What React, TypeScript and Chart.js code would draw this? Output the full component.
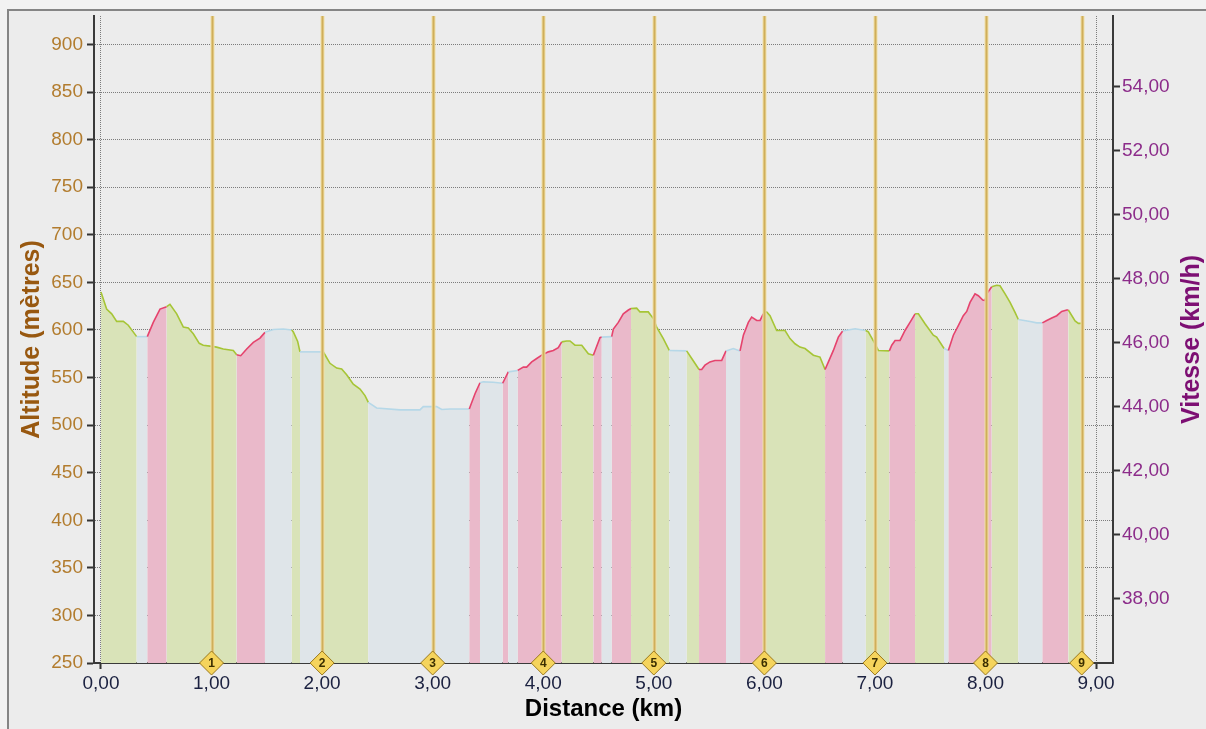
import React, { useEffect, useRef } from 'react';
import { Chart, registerables } from 'chart.js';

Chart.register(...registerables);

// ---- Data ----
const distanceKm = [
  0.0, 0.051, 0.097, 0.142, 0.202, 0.247, 0.323, 0.419, 0.473, 0.534,
  0.594, 0.624, 0.685, 0.745, 0.79, 0.835, 0.889, 0.925, 0.986, 1.046,
  1.106, 1.197, 1.227, 1.264, 1.318, 1.378, 1.438, 1.483, 1.559, 1.649,
  1.725, 1.74, 1.779, 1.8, 2.011, 2.026, 2.071, 2.132, 2.177, 2.222,
  2.282, 2.343, 2.388, 2.418, 2.493, 2.704, 2.885, 2.915, 3.036, 3.082,
  3.157, 3.331, 3.383, 3.428, 3.458, 3.548, 3.633, 3.684, 3.769, 3.82,
  3.85, 3.896, 3.941, 3.986, 4.046, 4.091, 4.136, 4.167, 4.212, 4.242,
  4.287, 4.348, 4.408, 4.453, 4.513, 4.529, 4.619, 4.634, 4.679, 4.724,
  4.77, 4.794, 4.845, 4.875, 4.95, 4.996, 5.026, 5.086, 5.14, 5.297,
  5.343, 5.409, 5.433, 5.463, 5.508, 5.553, 5.614, 5.653, 5.719, 5.78,
  5.81, 5.855, 5.885, 5.931, 5.961, 5.99, 6.021, 6.051, 6.111, 6.187,
  6.232, 6.277, 6.322, 6.368, 6.443, 6.503, 6.549, 6.579, 6.624, 6.669,
  6.708, 6.82, 6.916, 6.94, 6.991, 7.031, 7.13, 7.152, 7.182, 7.227,
  7.272, 7.317, 7.363, 7.393, 7.453, 7.528, 7.558, 7.625, 7.664, 7.709,
  7.754, 7.799, 7.83, 7.86, 7.905, 7.935, 7.975, 7.996, 8.011, 8.056,
  8.101, 8.131, 8.177, 8.222, 8.267, 8.297, 8.403, 8.463, 8.514, 8.554,
  8.599, 8.644, 8.689, 8.735, 8.749, 8.81, 8.84, 8.876,
];

const altitudeM = [
  640, 622, 617, 609, 609, 605, 593, 593, 608, 622,
  624.5, 627, 617, 603, 602, 596, 586, 584, 583, 582,
  580, 578.5, 574, 573, 580, 587, 591.5, 597.5, 600.5, 601,
  600, 598, 588, 577, 577, 574, 565, 560, 559, 553,
  543, 538, 531, 524, 518, 516, 516, 519.5, 519.5, 516.5,
  517, 517, 533, 544.5, 545.5, 545, 544, 556, 557.5, 561,
  561, 566.5, 570, 573.5, 577, 578.5, 581.5, 587.5, 588.5, 588.5,
  584, 584, 575, 573.5, 592, 592.5, 593, 601, 608, 617,
  621, 622.5, 623, 619, 619, 612, 603, 591, 578.5, 578,
  570, 558.5, 558.5, 563, 566.5, 568, 568, 578, 580.5, 578,
  594.5, 608, 613.5, 610, 610, 617, 619, 615, 599.5, 599.5,
  591, 585.5, 582, 580.5, 573.5, 571.5, 558.5, 566.5, 578.5, 592.5,
  599, 601.3, 599.5, 598, 587.5, 578.5, 578, 584, 589, 589,
  599.5, 608, 617, 617, 606.5, 594.5, 592.5, 580.5, 578.5, 594.5,
  604.5, 615, 619.5, 629, 638, 636, 631.5, 631, 638, 645.5,
  647, 646.5, 638, 629, 618.5, 611, 609, 607.5, 607.5, 610,
  612.5, 615, 619.5, 621, 621, 609.5, 607, 607,
];

// slope zones: d = descent (green), u = ascent (pink), f = flat (blue)
const zoneStartKm = [
  0, 0.323, 0.419, 0.594, 1.227, 1.483, 1.725, 1.8, 2.011, 2.418,
  3.331, 3.428, 3.633, 3.684, 3.769, 4.167, 4.453, 4.529, 4.619, 4.794,
  5.14, 5.297, 5.409, 5.653, 5.78, 5.99, 6.549, 6.708, 6.916, 7.13,
  7.363, 7.625, 7.664, 8.056, 8.297, 8.514, 8.749,
];
const zoneKind = [
  'd', 'f', 'u', 'd', 'u', 'f', 'd', 'f', 'd', 'f',
  'u', 'f', 'u', 'f', 'u', 'd', 'u', 'f', 'u', 'd',
  'f', 'd', 'u', 'f', 'u', 'd', 'u', 'f', 'd', 'u',
  'd', 'f', 'u', 'd', 'f', 'u', 'd',
];

const kmMarkerKm = [1, 2, 3, 4, 5, 6, 7, 8, 8.87];
const kmMarkerLabels = ['1', '2', '3', '4', '5', '6', '7', '8', '9'];

const distanceTicks = [0, 1, 2, 3, 4, 5, 6, 7, 8, 9];
const altitudeTicks = [250, 300, 350, 400, 450, 500, 550, 600, 650, 700, 750, 800, 850, 900];
const speedTicks = [38, 40, 42, 44, 46, 48, 50, 52, 54];

// ---- Styles ----
const FONT = '"Liberation Sans", Arial, sans-serif';
const LINE_COLORS: Record<string, string> = { d: '#a6c536', u: '#e5436d', f: '#b6d8e8' };
const FILL_COLORS: Record<string, string> = { d: '#d9e3b8', u: '#eab9ca', f: '#dfe5e9' };

const kindAt = (x: number) => {
  let k = zoneKind[0];
  for (let i = 0; i < zoneStartKm.length; i++) {
    if (zoneStartKm[i] <= x + 1e-6) k = zoneKind[i];
  }
  return k;
};

const fmtComma = (v: number) => Number(v).toFixed(2).replace('.', ',');

const overlayPlugin = {
  id: 'overlay',
  beforeDatasetDraw(chart: any, args: any) {
    if (args.index === 1) return false;
    return true;
  },
  afterDatasetDraw(chart: any, args: any) {
    if (args.index !== 0) return;
    const { ctx, chartArea, scales } = chart;
    ctx.save();
    kmMarkerKm.forEach((km) => {
      const px = Math.round(scales.x.getPixelForValue(km)) + 0.5;
      ctx.beginPath();
      ctx.strokeStyle = '#f0e0a8';
      ctx.lineWidth = 4;
      ctx.moveTo(px, chartArea.top);
      ctx.lineTo(px, chartArea.bottom);
      ctx.stroke();
      ctx.beginPath();
      ctx.strokeStyle = '#cfae5a';
      ctx.lineWidth = 2;
      ctx.moveTo(px, chartArea.top);
      ctx.lineTo(px, chartArea.bottom);
      ctx.stroke();
    });
    ctx.restore();
  },
  afterDraw(chart: any) {
    const { ctx, chartArea } = chart;
    const meta = chart.getDatasetMeta(1);
    ctx.save();
    meta.data.forEach((pt: any) => pt.draw(ctx, chartArea));
    ctx.font = `bold 12px ${FONT}`;
    ctx.fillStyle = '#3b2f00';
    ctx.textAlign = 'center';
    ctx.textBaseline = 'middle';
    meta.data.forEach((pt: any, i: number) => {
      ctx.fillText(kmMarkerLabels[i], pt.x, pt.y + 0.5);
    });
    // right axis title, reading bottom-to-top
    const y2 = chart.scales.y2;
    ctx.translate(y2.right - 14, (chartArea.top + chartArea.bottom) / 2);
    ctx.rotate(-Math.PI / 2);
    ctx.font = `bold 25px ${FONT}`;
    ctx.fillStyle = '#7d0f73';
    ctx.fillText('Vitesse (km/h)', 0, 0);
    ctx.restore();
  },
};

export default function App() {
  const canvasRef = useRef<HTMLCanvasElement | null>(null);

  useEffect(() => {
    if (!canvasRef.current) return;
    const profile = distanceKm.map((x, i) => ({ x, y: altitudeM[i] }));
    const markers = kmMarkerKm.map((x) => ({ x, y: 250 }));

    const chart = new Chart(canvasRef.current, {
      type: 'line',
      data: {
        datasets: [
          {
            type: 'line',
            data: profile,
            xAxisID: 'x',
            yAxisID: 'y',
            borderWidth: 1.6,
            pointRadius: 0,
            tension: 0,
            fill: 'start',
            borderColor: LINE_COLORS.d,
            backgroundColor: FILL_COLORS.d,
            segment: {
              borderColor: (c: any) => LINE_COLORS[kindAt(c.p0.parsed.x)],
              backgroundColor: (c: any) => FILL_COLORS[kindAt(c.p0.parsed.x)],
            },
          } as any,
          {
            type: 'scatter',
            data: markers,
            xAxisID: 'x',
            yAxisID: 'y',
            pointStyle: 'rectRot',
            pointRadius: 12,
            backgroundColor: '#f5d45c',
            borderColor: '#9a781c',
            borderWidth: 1,
            clip: false,
          } as any,
        ],
      },
      options: {
        responsive: false,
        animation: false,
        events: [],
        layout: { padding: { top: 16, left: 0, right: 0, bottom: 0 } },
        plugins: {
          legend: { display: false },
          tooltip: { enabled: false },
        },
        scales: {
          x: {
            type: 'linear',
            position: 'bottom',
            min: -0.063,
            max: 9.153,
            z: 1,
            afterBuildTicks: (s: any) => {
              s.ticks = distanceTicks.map((v) => ({ value: v }));
            },
            afterFit: (s: any) => {
              s.height = 66;
            },
            grid: {
              color: '#7c7c7c',
              lineWidth: 1,
              drawTicks: true,
              tickLength: 6,
              tickColor: '#333333',
              tickWidth: 2,
              tickBorderDash: [],
            },
            border: { display: true, color: '#3a3a3a', width: 2, dash: [1, 1] },
            ticks: {
              color: '#1b2140',
              font: { family: FONT, size: 19 },
              padding: 3,
              maxRotation: 0,
              autoSkip: false,
              callback: (v: any) => fmtComma(v),
            },
            title: {
              display: true,
              text: 'Distance (km)',
              color: '#000000',
              font: { family: FONT, size: 24, weight: 'bold', lineHeight: 1.2 },
              padding: { top: 0, bottom: 5 },
            },
          },
          y: {
            type: 'linear',
            position: 'left',
            min: 250,
            max: 930,
            z: 1,
            afterBuildTicks: (s: any) => {
              s.ticks = altitudeTicks.map((v) => ({ value: v }));
            },
            afterFit: (s: any) => {
              s.width = 94;
            },
            grid: {
              color: '#7c7c7c',
              lineWidth: 1,
              drawTicks: true,
              tickLength: 7,
              tickColor: '#333333',
              tickWidth: 2,
              tickBorderDash: [],
            },
            border: { display: true, color: '#3a3a3a', width: 2, dash: [1, 1] },
            ticks: {
              color: '#b27c2e',
              font: { family: FONT, size: 19 },
              padding: 4,
              callback: (v: any) => String(v),
            },
            title: {
              display: true,
              text: 'Altitude (mètres)',
              color: '#985810',
              font: { family: FONT, size: 25, weight: 'bold', lineHeight: 1.2 },
              padding: { top: 17, bottom: 0 },
            },
          },
          y2: {
            type: 'linear',
            position: 'right',
            min: 36,
            max: 56.2,
            z: 1,
            afterBuildTicks: (s: any) => {
              s.ticks = speedTicks.map((v) => ({ value: v }));
            },
            afterFit: (s: any) => {
              s.width = 93;
            },
            grid: {
              drawOnChartArea: false,
              drawTicks: true,
              tickLength: 7,
              tickColor: '#333333',
              tickWidth: 2,
              tickBorderDash: [],
            },
            border: { display: true, color: '#3a3a3a', width: 2 },
            ticks: {
              color: '#8c2c8a',
              font: { family: FONT, size: 19 },
              padding: 2,
              callback: (v: any) => fmtComma(v),
            },
            title: { display: false },
          },
        },
      } as any,
      plugins: [overlayPlugin],
    });

    return () => chart.destroy();
  }, []);

  return (
    <div
      style={{
        position: 'fixed',
        left: 0,
        top: 0,
        width: 1206,
        height: 729,
        background: '#f2f2f2',
        overflow: 'hidden',
      }}
    >
      <div
        style={{
          position: 'absolute',
          left: 7,
          top: 9,
          width: 1240,
          height: 760,
          borderTop: '2px solid #858585',
          borderLeft: '2px solid #858585',
          background: '#ececec',
        }}
      />
      <canvas
        ref={canvasRef}
        width={1206}
        height={729}
        style={{ position: 'absolute', left: 0, top: 0 }}
      />
    </div>
  );
}
